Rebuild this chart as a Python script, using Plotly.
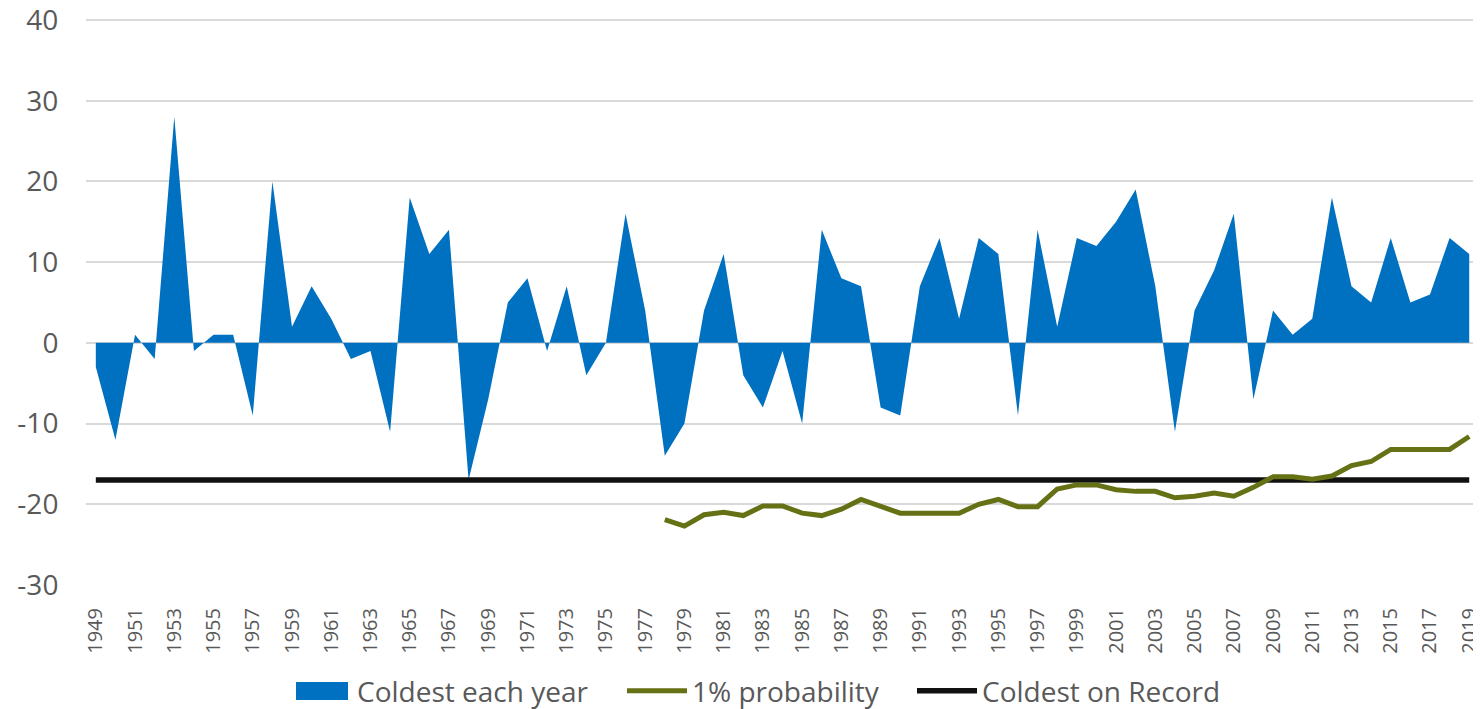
import plotly.graph_objects as go

years = list(range(1949, 2020))
coldest_each_year = [-3, -12, 1, -2, 28, -1, 1, 1, -9, 20,
                     2, 7, 3, -2, -1, -11, 18, 11, 14, -17,
                     -7, 5, 8, -1, 7, -4, 0, 16, 4, -14,
                     -10, 4, 11, -4, -8, -1, -10, 14, 8, 7,
                     -8, -9, 7, 13, 3, 13, 11, -9, 14, 2,
                     13, 12, 15, 19, 7, -11, 4, 9, 16, -7,
                     4, 1, 3, 18, 7, 5, 13, 5, 6, 13, 11]
prob_years = list(range(1978, 2020))
prob_1pct = [-21.9, -22.7, -21.3, -21.0, -21.4, -20.2, -20.2, -21.1, -21.4, -20.6,
             -19.4, -20.3, -21.1, -21.1, -21.1, -21.1, -20.0, -19.4, -20.3, -20.3,
             -18.1, -17.6, -17.6, -18.2, -18.4, -18.4, -19.2, -19.0, -18.6, -19.0,
             -17.9, -16.6, -16.6, -16.9, -16.5, -15.2, -14.7, -13.2, -13.2, -13.2,
             -13.2, -11.6]
record_value = -17
record = [record_value] * len(years)
x_tick_years = list(range(1949, 2020, 2))
x_tick_labels = [str(y) for y in x_tick_years]
y_tick_values = [-30, -20, -10, 0, 10, 20, 30, 40]
y_tick_labels = ["-30", "-20", "-10", "0", "10", "20", "30", "40"]

TXT = "#595959"
FONT = "Open Sans"
BLUE = "#0070C0"
GREEN = "#667116"
BLACK = "#111111"

# page offset of the figure (default body margin)
OFF = 8
W, H = 1481 - OFF, 709 - OFF
PL, PR, PT, PB = 86, 1481, 18, 585  # plot area in page pixels

fig = go.Figure()
fig.add_trace(go.Scatter(
    x=years, y=coldest_each_year, name="Coldest each year",
    mode="lines", fill="tozeroy", fillcolor=BLUE,
    line=dict(width=0, color=BLUE), showlegend=False,
))
fig.add_trace(go.Scatter(
    x=years, y=record, name="Coldest on Record",
    mode="lines", line=dict(width=5.5, color=BLACK), legend="legend3",
))
fig.add_trace(go.Scatter(
    x=prob_years, y=prob_1pct, name="1% probability",
    mode="lines", line=dict(width=5, color=GREEN), legend="legend2",
))
# legend entry for the area series (swatch drawn as a shape below)
fig.add_trace(go.Scatter(
    x=[None], y=[None], name="Coldest each year",
    mode="lines", line=dict(width=1, color="rgba(0,0,0,0)"), legend="legend",
))

LEG_Y = 691


def leg(xpx):
    return dict(orientation="h", xref="container", yref="container",
                x=(xpx - OFF) / W, xanchor="left",
                y=(H - (LEG_Y - OFF)) / H, yanchor="middle",
                font=dict(family=FONT, size=28, color=TXT),
                itemwidth=60, bgcolor="rgba(0,0,0,0)")


def px_x(p):
    return (p - PL) / (PR - PL)


def px_y(p):
    return (PB - p) / (PB - PT)


fig.update_layout(
    width=W, height=H,
    margin=dict(l=PL - OFF, r=0, t=PT - OFF, b=709 - PB, autoexpand=False),
    paper_bgcolor="white", plot_bgcolor="white",
    font=dict(family=FONT, color=TXT),
    showlegend=True,
    legend=leg(287),
    legend2=leg(622),
    legend3=leg(912),
    shapes=[dict(type="rect", xref="paper", yref="paper",
                 x0=px_x(296), x1=px_x(348), y0=px_y(LEG_Y + 9), y1=px_y(LEG_Y - 9),
                 fillcolor=BLUE, line=dict(width=0), layer="above")],
    xaxis=dict(range=[1948.5, 2019.6], tickmode="array", tickvals=x_tick_years,
               ticktext=x_tick_labels, tickangle=-90, showgrid=False, zeroline=False,
               showline=False, ticks="outside", ticklen=14, tickcolor="rgba(0,0,0,0)",
               tickfont=dict(family=FONT, size=20, color=TXT), automargin=False,
               ticklabeloverflow="allow"),
    yaxis=dict(range=[-30, 40.25], tickmode="array", tickvals=y_tick_values,
               ticktext=y_tick_labels,
               showgrid=True, gridcolor="#D9D9D9", gridwidth=1.5, zeroline=False,
               showline=False, ticks="outside", ticklen=21, tickcolor="rgba(0,0,0,0)",
               tickfont=dict(family=FONT, size=28, color=TXT), automargin=False,
               ticklabeloverflow="allow"),
)

fig.write_html("out.html")
